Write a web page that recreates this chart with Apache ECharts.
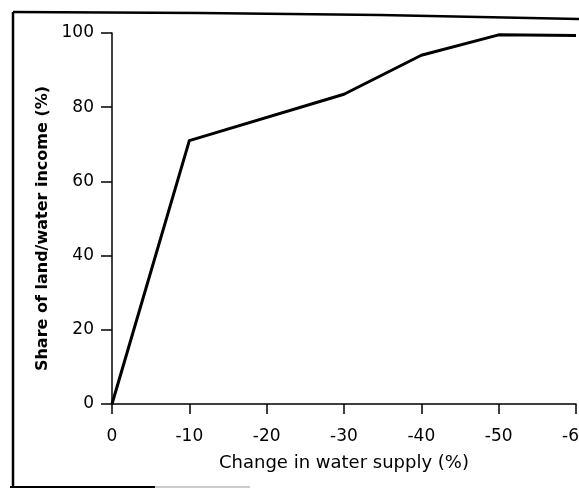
<!DOCTYPE html>
<html>
<head>
<meta charset="utf-8">
<script src="https://cdn.jsdelivr.net/npm/echarts@6/dist/echarts.min.js"></script>
<style>
html,body{margin:0;padding:0;background:#fff;}
#chart{width:579px;height:489px;}
</style>
</head>
<body>
<div id="chart"></div>
<script>
// Data
var waterSupplyChange = [0, -10, -30, -40, -50, -60];
var landWaterShare   = [0, 71, 83.5, 94, 99.5, 99.3];
var xTickValues = [0, -10, -20, -30, -40, -50, -60];
var yTickValues = [0, 20, 40, 60, 80, 100];
var xAxisTitle = 'Change in water supply (%)';
var yAxisTitle = 'Share of land/water income (%)';

var seriesData = waterSupplyChange.map(function (x, i) { return [x, landWaterShare[i]]; });

var chart = echarts.init(document.getElementById('chart'), null, {renderer: 'canvas'});
var FONT = '"DejaVu Sans", "Liberation Sans", Arial, sans-serif';

chart.setOption({
  backgroundColor: '#ffffff',
  animation: false,
  grid: {left: 112, right: 3, top: 33, bottom: 85, containLabel: false, outerBoundsMode: 'none'},
  xAxis: {
    type: 'value',
    inverse: true,
    min: xTickValues[xTickValues.length - 1],
    max: xTickValues[0],
    interval: 10,
    name: xAxisTitle,
    nameLocation: 'middle',
    nameGap: 50,
    nameTextStyle: {color: '#000', fontSize: 18, fontFamily: FONT, verticalAlign: 'top'},
    axisLine: {show: true, onZero: false, lineStyle: {color: '#000', width: 1.5}},
    axisTick: {show: true, inside: false, length: 10, lineStyle: {color: '#000', width: 1.5}},
    axisLabel: {color: '#000', fontSize: 17, fontFamily: FONT, margin: 24, showMaxLabel: true, showMinLabel: true, hideOverlap: false},
    splitLine: {show: false}
  },
  yAxis: {
    type: 'value',
    min: yTickValues[0],
    max: yTickValues[yTickValues.length - 1],
    interval: 20,
    name: yAxisTitle,
    nameLocation: 'middle',
    nameGap: 60,
    nameTextStyle: {color: '#000', fontSize: 16, fontWeight: 'bold', fontFamily: FONT, padding: [0, 20, 0, 0]},
    axisLine: {show: true, lineStyle: {color: '#000', width: 1.5}},
    axisTick: {show: true, inside: false, length: 11, lineStyle: {color: '#000', width: 1.5}},
    axisLabel: {color: '#000', fontSize: 17, fontFamily: FONT, margin: 18},
    splitLine: {show: false}
  },
  graphic: [
    {type: 'polyline', silent: true, shape: {points: [[13, 12], [200, 13], [380, 15], [579, 19]]}, style: {stroke: '#000', lineWidth: 2.5, fill: null}},
    {type: 'line', silent: true, shape: {x1: 13, y1: 12, x2: 13, y2: 488}, style: {stroke: '#000', lineWidth: 2.5}},
    {type: 'line', silent: true, shape: {x1: 10, y1: 487, x2: 155, y2: 487}, style: {stroke: '#000', lineWidth: 2}},
    {type: 'line', silent: true, shape: {x1: 155, y1: 487, x2: 250, y2: 487}, style: {stroke: '#bbb', lineWidth: 1.5}}
  ],
  series: [{
    type: 'line',
    data: seriesData,
    showSymbol: false,
    symbol: 'none',
    clip: false,
    lineStyle: {color: '#000', width: 3, join: 'round'}
  }]
});
</script>
</body>
</html>
